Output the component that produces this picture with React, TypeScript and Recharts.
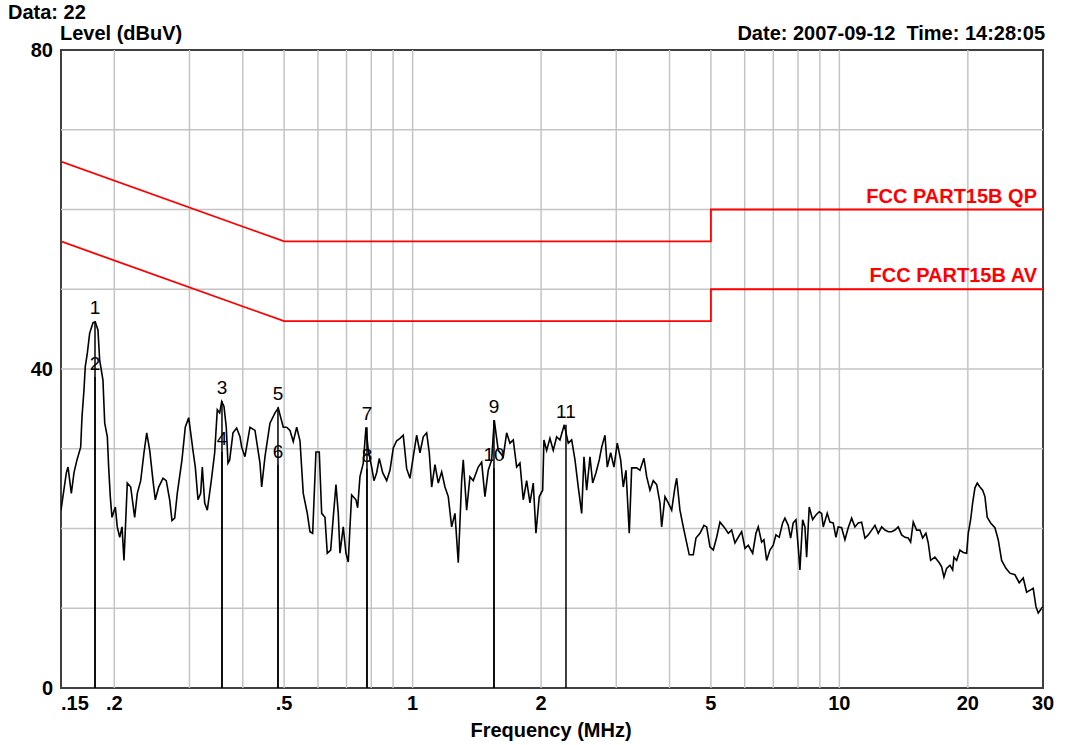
import React from "react";
import {
  ComposedChart,
  Line,
  XAxis,
  YAxis,
  ReferenceLine,
  ReferenceArea,
  ReferenceDot,
} from "recharts";

const FONT = "'Liberation Sans', Arial, sans-serif";

const traceFreq = [
  0.15, 0.1544, 0.1558, 0.1586, 0.1609, 0.1635, 0.1668, 0.168, 0.1698, 0.171,
  0.1729, 0.1751, 0.1783, 0.1805, 0.1831, 0.1848, 0.1881, 0.1899, 0.1926, 0.194,
  0.1957, 0.1975, 0.2011, 0.2032, 0.2059, 0.2085, 0.2107, 0.2127, 0.2145, 0.2185,
  0.2232, 0.2264, 0.2306, 0.2347, 0.2382, 0.2421, 0.2464, 0.2495, 0.2541, 0.2601,
  0.2647, 0.2696, 0.273, 0.277, 0.2809, 0.2881, 0.2933, 0.2987, 0.302, 0.3057,
  0.3096, 0.3141, 0.3187, 0.3215, 0.3257, 0.3303, 0.3375, 0.3437, 0.3486, 0.3531,
  0.357, 0.3614, 0.3659, 0.3693, 0.3727, 0.3794, 0.387, 0.394, 0.3976, 0.4047,
  0.4158, 0.4272, 0.4389, 0.4429, 0.4509, 0.4632, 0.4759, 0.4844, 0.4976, 0.5068,
  0.516, 0.5252, 0.535, 0.5446, 0.5543, 0.5665, 0.5747, 0.5832, 0.5936, 0.6043,
  0.6122, 0.6232, 0.631, 0.6427, 0.6517, 0.6613, 0.6696, 0.6757, 0.6878, 0.6979,
  0.7067, 0.7132, 0.7197, 0.7366, 0.7434, 0.7527, 0.7663, 0.7775, 0.7872, 0.8018,
  0.8118, 0.8237, 0.8354, 0.8508, 0.8694, 0.885, 0.9009, 0.9176, 0.9341, 0.9508,
  0.9684, 0.9858, 1.0036, 1.0221, 1.0405, 1.0592, 1.0788, 1.094, 1.1083, 1.1282,
  1.1485, 1.1697, 1.1907, 1.2121, 1.2345, 1.2567, 1.2794, 1.3029, 1.3142, 1.3385,
  1.3626, 1.3871, 1.4249, 1.4514, 1.4774, 1.504, 1.5318, 1.5535, 1.5873, 1.6307,
  1.6609, 1.6908, 1.7212, 1.7529, 1.7845, 1.8166, 1.8502, 1.8834, 1.9173, 1.9453,
  1.9804, 2.017, 2.0311, 2.061, 2.098, 2.1357, 2.1753, 2.2143, 2.2666, 2.316,
  2.3589, 2.4014, 2.4444, 2.4898, 2.5207, 2.5577, 2.6038, 2.6419, 2.6893, 2.7376,
  2.7735, 2.8231, 2.8585, 2.9113, 2.9636, 3.0168, 3.0727, 3.1161, 3.1618, 3.2186,
  3.2606, 3.3497, 3.4098, 3.4842, 3.5354, 3.5988, 3.6637, 3.7316, 3.7984, 3.8334,
  3.9023, 3.9724, 4.046, 4.1188, 4.1566, 4.2311, 4.3071, 4.3869, 4.4488, 4.5461,
  4.6126, 4.7134, 4.8161, 4.8868, 4.9746, 5.064, 5.1576, 5.2504, 5.3649, 5.491,
  5.5925, 5.6926, 5.7953, 5.9023, 6.0084, 6.1165, 6.2635, 6.3754, 6.4556, 6.5738,
  6.6559, 6.7535, 6.8749, 6.9983, 7.1011, 7.2288, 7.3624, 7.4541, 7.5883, 7.6872,
  7.7959, 7.9099, 8.0088, 8.0828, 8.2013, 8.3035, 8.3801, 8.4987, 8.6558, 8.811,
  8.9695, 9.0867, 9.1653, 9.3651, 9.5026, 9.6735, 9.815, 9.9381, 10.121, 10.304,
  10.489, 10.683, 10.875, 11.07, 11.276, 11.479, 11.685, 11.902, 12.116, 12.333,
  12.562, 12.787, 13.017, 13.257, 13.496, 13.738, 13.993, 14.244, 14.5, 14.688,
  14.896, 15.172, 15.444, 15.671, 15.952, 16.152, 16.362, 16.745, 17.14, 17.362,
  17.579, 17.837, 18.158, 18.425, 18.553, 18.827, 19.164, 19.509, 19.87, 20.042,
  20.303, 20.523, 20.781, 21.039, 21.347, 21.661, 21.931, 22.206, 22.617, 23.146,
  23.563, 24.0, 24.563, 25.099, 25.784, 26.389, 26.966, 27.465, 28.064, 28.461,
  28.877, 29.239, 29.779, 30,
];

const traceLevel = [
  22.3, 27, 27.7, 24.4, 27, 28.6, 30.2, 34, 37.4, 40.3,
  42, 44.5, 45.8, 45.9, 44.9, 41.1, 38.6, 33.2, 31.5, 27.7,
  24, 21.4, 22.7, 20.2, 18.9, 20.2, 16, 21, 25.7, 25.2,
  21.4, 24.4, 26, 29.5, 32, 29.8, 26, 23.6, 25.2, 26.3,
  26, 23.6, 21, 21.3, 24.4, 28.6, 32.7, 33.9, 32, 29.8,
  27.7, 23.6, 24.4, 27.7, 23.2, 22.3, 26, 29.5, 34.9, 34.5,
  35.9, 35.3, 32.7, 28.2, 28.6, 32, 32.6, 31.5, 30.2, 29,
  32.7, 32.3, 28.2, 25.2, 29, 33.2, 34.5, 35.1, 32.7, 32.7,
  32.3, 30.9, 32.7, 31, 24.4, 21.9, 19.6, 19.4, 29.6, 29.6,
  21.9, 21.4, 16.9, 17.3, 21.4, 25.5, 21.9, 16.9, 20.2, 16.9,
  15.8, 20.2, 24.2, 23.6, 22.6, 26.5, 28.2, 32.7, 29.8, 27.7,
  26, 27, 28.8, 27, 26, 27.3, 30.1, 31, 31.3, 31.7,
  27.5, 26.3, 29, 31.7, 29.5, 31.5, 32, 29.5, 25.2, 28,
  25.7, 27.1, 25.2, 24, 20.2, 21.9, 15.7, 26, 28.6, 22.3,
  26.5, 26, 27.7, 28.3, 24, 27.3, 28.6, 33.6, 29.8, 29,
  32, 30.7, 31.1, 27.7, 28.2, 23.6, 26, 23.2, 25.7, 19.4,
  24, 24.8, 31.1, 29.8, 31.3, 29.8, 31.5, 31.1, 33, 30.7,
  31.1, 28.6, 25.2, 21.9, 29, 24.8, 29, 25.7, 27, 28.6,
  30.2, 31.7, 27.7, 29.5, 27.7, 30.7, 28.6, 25.2, 27.3, 19.4,
  27.6, 27.6, 27.3, 28.8, 26.5, 24.8, 26, 25.5, 23.2, 20.2,
  24, 23.2, 22.3, 25.2, 26.3, 22.3, 20.2, 18.2, 16.7, 16.7,
  18.8, 19.4, 20.4, 20.2, 17.7, 17.3, 18.9, 20.8, 20.2, 19.4,
  19.8, 18.2, 18.9, 19.6, 17.5, 17.9, 16.9, 19.4, 20.2, 18.3,
  18.6, 16, 17.3, 17.9, 19.2, 18.9, 20.7, 21.3, 20.4, 18.8,
  20.7, 21.1, 17.7, 14.8, 21.1, 20.2, 16.4, 22.7, 21.1, 21.7,
  22.1, 21.9, 20.2, 21.9, 20.8, 20.7, 18.9, 20.2, 20.1, 18.6,
  20.1, 21.3, 20.2, 20.7, 20.8, 18.8, 19.2, 19.8, 20.4, 19.4,
  20.2, 19.8, 19.6, 19.6, 19.8, 20.2, 19.2, 18.9, 18.8, 18.3,
  20.8, 19.8, 19.8, 18.8, 19.4, 18.2, 16, 16.4, 15.7, 15.2,
  13.9, 15, 15.4, 14.8, 16.4, 16, 17.3, 17, 16.9, 19.4,
  21.1, 23.2, 25.1, 25.7, 25.2, 24.8, 24, 21.4, 20.7, 20.1,
  18.6, 16, 15, 14.4, 14.2, 13.2, 13.8, 12, 12.3, 12.5,
  10.2, 9.4, 10, 10.2,
];

// FCC Part 15B class B conducted limits
const limitFreq = [0.15, 0.5, 5, 5, 30];
const qpLimit = [66, 56, 56, 60, 60];
const avLimit = [56, 46, 46, 50, 50];

// peak markers (odd = QP reading, even = AV reading)
const markerId = ["1", "2", "3", "4", "5", "6", "7", "8", "9", "10", "11"];
const markerFreq = [0.1802, 0.1802, 0.3575, 0.3575, 0.4836, 0.4836, 0.7817, 0.7817, 1.551, 1.551, 2.2875];
const markerLevel = [46, 39, 36, 29.6, 35.2, 28, 32.7, 27.5, 33.6, 27.6, 33];

const xTicks = [0.15, 0.2, 0.5, 1, 2, 5, 10, 20, 30];
const yTicks = [0, 40, 80];
const gridFreq = [0.2, 0.3, 0.4, 0.5, 0.6, 0.7, 0.8, 0.9, 1, 2, 3, 4, 5, 6, 7, 8, 9, 10, 20];
const gridLevel = [10, 20, 30, 40, 50, 60, 70];

const traceData = traceFreq.map((f, i) => ({ f, level: traceLevel[i] }));
const limitData = limitFreq.map((f, i) => ({ f, qp: qpLimit[i], av: avLimit[i] }));

const fmtFreq = (v: number) => (v < 1 ? String(v).replace(/^0/, "") : String(v));

const tickStyle = { fontSize: 20, fontWeight: "bold", fill: "#000", fontFamily: FONT };

// first frequency label sits flush with the left frame, like the original
function FreqTick(props: any) {
  const { x, y, payload, index } = props;
  return (
    <text
      x={x}
      y={y}
      dy="0.71em"
      textAnchor={index === 0 ? "start" : "middle"}
      fill="#000"
      fontSize={20}
      fontWeight="bold"
      fontFamily={FONT}
    >
      {fmtFreq(payload.value)}
    </text>
  );
}

function limitLabel(text: string) {
  return (props: any) => {
    const { viewBox } = props;
    return (
      <text
        x={viewBox.x - 5}
        y={viewBox.y - 6}
        textAnchor="end"
        fill="#ff0000"
        fontSize={20}
        fontWeight="bold"
        fontFamily={FONT}
      >
        {text}
      </text>
    );
  };
}

export default function App() {
  return (
    <div style={{ position: "absolute", left: 0, top: 0, width: 1073, height: 745, background: "#fff" }}>
      <ComposedChart width={1073} height={745} margin={{ top: 50, right: 30, bottom: 0, left: 0 }}>
        <XAxis
          dataKey="f"
          type="number"
          scale="log"
          domain={[0.15, 30]}
          allowDataOverflow
          ticks={xTicks}
          interval={0}
          tickLine={false}
          axisLine={false}
          height={57}
          tick={<FreqTick />}
        />
        <YAxis
          type="number"
          domain={[0, 80]}
          ticks={yTicks}
          interval={0}
          tickLine={false}
          axisLine={false}
          width={61}
          tick={tickStyle}
        />
        {gridFreq.map((f) => (
          <ReferenceLine key={"gx" + f} x={f} stroke="#c4c4c4" strokeWidth={1.5} />
        ))}
        {gridLevel.map((v) => (
          <ReferenceLine key={"gy" + v} y={v} stroke="#c4c4c4" strokeWidth={1.5} />
        ))}
        {markerFreq.map((f, i) => (
          <ReferenceLine
            key={"m" + i}
            segment={[
              { x: f, y: 0 },
              { x: f, y: markerLevel[i] },
            ]}
            stroke="#000"
            strokeWidth={1.5}
          />
        ))}
        {markerFreq.map((f, i) => (
          <ReferenceDot
            key={"ml" + i}
            x={f}
            y={markerLevel[i]}
            r={1}
            fill="none"
            stroke="none"
            label={{
              value: markerId[i],
              position: "top",
              offset: 6,
              fill: "#000",
              fontSize: 19,
              fontFamily: FONT,
            }}
          />
        ))}
        <Line
          data={limitData}
          dataKey="qp"
          type="linear"
          stroke="#ff0000"
          strokeWidth={1.8}
          dot={false}
          isAnimationActive={false}
        />
        <Line
          data={limitData}
          dataKey="av"
          type="linear"
          stroke="#ff0000"
          strokeWidth={1.8}
          dot={false}
          isAnimationActive={false}
        />
        <Line
          data={traceData}
          dataKey="level"
          type="linear"
          stroke="#000"
          strokeWidth={1.6}
          dot={false}
          isAnimationActive={false}
        />
        <ReferenceDot x={30} y={qpLimit[4]} r={1} fill="none" stroke="none" label={limitLabel("FCC PART15B QP")} />
        <ReferenceDot x={30} y={avLimit[4]} r={1} fill="none" stroke="none" label={limitLabel("FCC PART15B AV")} />
        <ReferenceArea
          x1={0.15}
          x2={30}
          y1={0}
          y2={80}
          fill="none"
          stroke="#404040"
          strokeWidth={2}
          ifOverflow="visible"
        />
      </ComposedChart>
      <svg
        width={1073}
        height={745}
        style={{ position: "absolute", left: 0, top: 0, pointerEvents: "none" }}
        fontFamily={FONT}
        fontWeight="bold"
        fontSize={20}
      >
        <text x={8} y={19}>Data: 22</text>
        <text x={60} y={40}>Level (dBuV)</text>
        <text x={1045} y={40} textAnchor="end">{"Date: 2007-09-12\u00a0\u00a0Time: 14:28:05"}</text>
        <text x={551} y={737} textAnchor="middle">Frequency (MHz)</text>
      </svg>
    </div>
  );
}
